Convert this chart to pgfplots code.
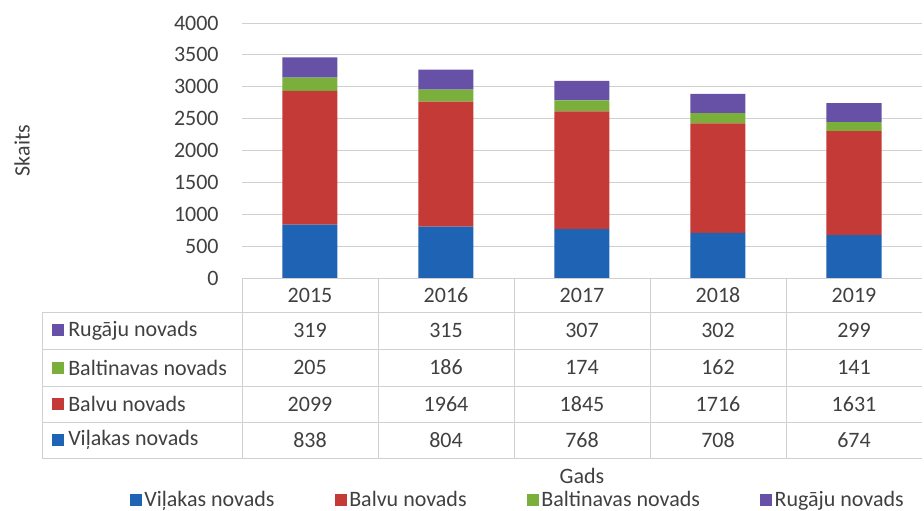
\documentclass[border=0pt]{standalone}
\usepackage{pgfplots}
\pgfplotsset{compat=1.18}
\usepackage{fontspec}
\setmainfont{Carlito}
\definecolor{cBlue}{HTML}{1F63B4}
\definecolor{cRed}{HTML}{C43A36}
\definecolor{cGreen}{HTML}{7BAF3C}
\definecolor{cPurple}{HTML}{6651A6}
\definecolor{txt}{HTML}{404040}
\definecolor{gridc}{HTML}{D0D0D0}
\begin{document}
\begin{tikzpicture}[font=\fontsize{16.5}{19}\selectfont, text=txt]
\begin{axis}[name=ax,
  scale only axis, width=510pt, height=191.25pt,
  ybar stacked, bar width=41.25pt,
  xmin=-0.5, xmax=4.5, ymin=0, ymax=4000,
  ytick={0,500,...,4000}, xtick=\empty,
  ymajorgrids, grid style={gridc, line width=0.6pt},
  axis line style={draw=none}, major tick style={draw=none},
  /pgf/number format/assume math mode=true,
  /pgf/number format/1000 sep={},
  yticklabel style={font=\fontsize{16.5}{19}\selectfont, text=txt, xshift=-14pt},
  ylabel={Skaits}, ylabel style={at={(axis description cs:-0.3235,0.5)}, anchor=center, font=\fontsize{16.5}{19}\selectfont, text=txt},
  xlabel={Gads}, xlabel style={at={(axis description cs:0.5,-0.776)}, anchor=center, inner sep=0pt, font=\fontsize{16.5}{19}\selectfont, text=txt},
  legend columns=4,
  legend style={draw=none, fill=none, at={(0.406,-0.869)}, anchor=center, inner sep=0pt,
    font=\fontsize{16.5}{19}\selectfont, text=txt,
    /tikz/every even column/.append style={column sep=43pt}},
  legend image code/.code={\fill[#1,draw=none] (0pt,-4.5pt) rectangle (9pt,4.5pt);},
]
\addplot[fill=cBlue, draw=none] coordinates {(0,838) (1,804) (2,768) (3,708) (4,674)};
\addplot[fill=cRed, draw=none] coordinates {(0,2099) (1,1964) (2,1845) (3,1716) (4,1631)};
\addplot[fill=cGreen, draw=none] coordinates {(0,205) (1,186) (2,174) (3,162) (4,141)};
\addplot[fill=cPurple, draw=none] coordinates {(0,319) (1,315) (2,307) (3,302) (4,299)};
\legend{Viļakas novads, Balvu novads, Baltinavas novads, Rugāju novads}
\end{axis}
\begin{scope}[shift={(ax.south west)}, x=0.75pt, y=-0.75pt]
  \draw[gridc, line width=0.6pt] (0,0) -- (680,0);
  \foreach \yy in {34,71,108,144,180} \draw[gridc, line width=0.6pt] (-200,\yy) -- (680,\yy);
  \draw[gridc, line width=0.6pt] (-200,34) -- (-200,180);
  \foreach \xx in {0,136,272,408,544} \draw[gridc, line width=0.6pt] (\xx,0) -- (\xx,180);
  \foreach \yr [count=\i from 0] in {2015,2016,2017,2018,2019}
    \node at (68+136*\i,17) {\yr};
  \foreach \v [count=\i from 0] in {319,315,307,302,299} \node at (68+136*\i,52.5) {\v};
  \foreach \v [count=\i from 0] in {205,186,174,162,141} \node at (68+136*\i,89.5) {\v};
  \foreach \v [count=\i from 0] in {2099,1964,1845,1716,1631} \node at (68+136*\i,126) {\v};
  \foreach \v [count=\i from 0] in {838,804,768,708,674} \node at (68+136*\i,162) {\v};
  \fill[cPurple] (-190,46.5) rectangle (-178,58.5);
  \fill[cGreen] (-190,83.5) rectangle (-178,95.5);
  \fill[cRed] (-190,120) rectangle (-178,132);
  \fill[cBlue] (-190,156) rectangle (-178,168);
  \node[anchor=west, inner sep=0pt] at (-174,52.5) {Rugāju novads};
  \node[anchor=west, inner sep=0pt] at (-174,89.5) {Baltinavas novads};
  \node[anchor=west, inner sep=0pt] at (-174,126) {Balvu novads};
  \node[anchor=west, inner sep=0pt] at (-174,162) {Viļakas novads};
  \path (-242,-278) rectangle (682,230);
\end{scope}
\end{tikzpicture}
\end{document}
